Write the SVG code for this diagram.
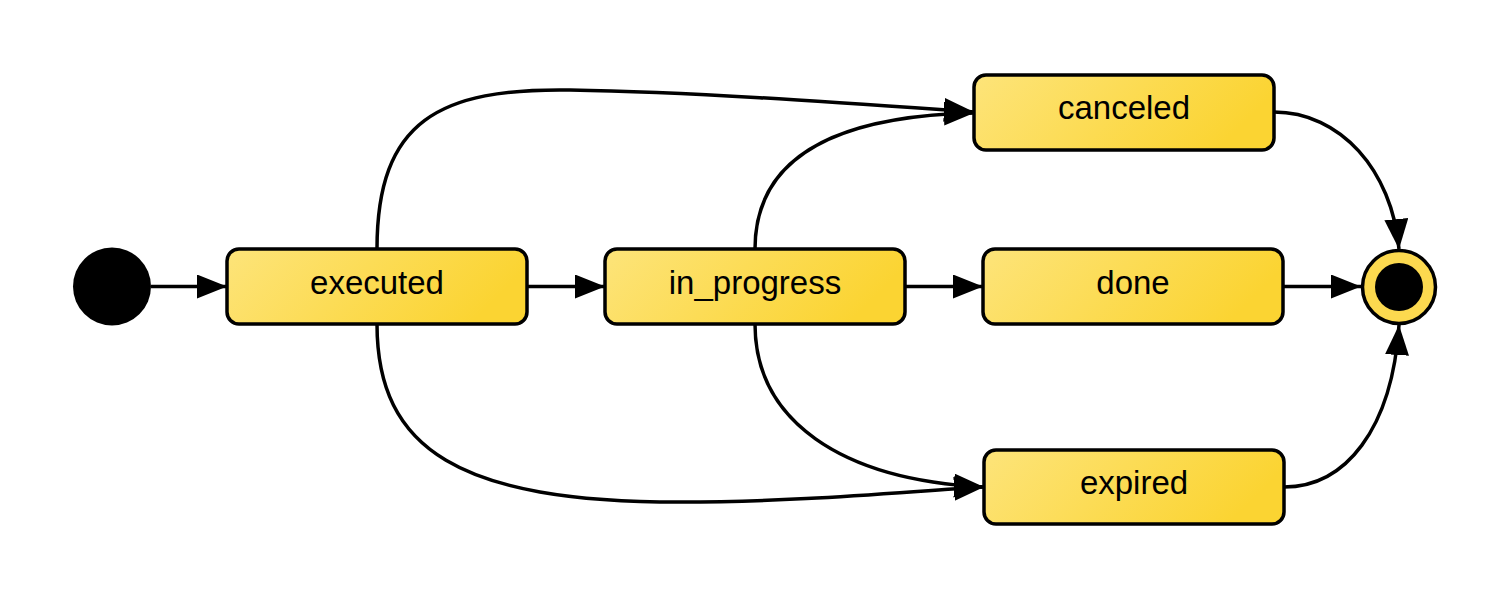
<svg xmlns="http://www.w3.org/2000/svg" width="1511" height="600" viewBox="0 0 1511 600">
<defs>
<linearGradient id="g" x1="0" y1="0" x2="1" y2="0.25">
<stop offset="0" stop-color="#fde47a"/>
<stop offset="1" stop-color="#fbd432"/>
</linearGradient>
<marker id="arr" markerWidth="30" markerHeight="24" refX="30" refY="12" orient="auto" markerUnits="userSpaceOnUse">
<path d="M0,0 L30,12 L0,24 Z" fill="#000"/>
</marker>
<style>
.st rect{fill:url(#g);stroke:#000;stroke-width:3.5}
.st text{font-family:"Liberation Sans",Arial,sans-serif;font-size:33px;fill:#000;text-anchor:middle}
.e{fill:none;stroke:#000;stroke-width:3.5;marker-end:url(#arr)}
</style>
</defs>
<rect width="1511" height="600" fill="#fff"/>
<g id="connectors">
<path class="e" d="M151,286.5 L227,286.5"/>
<path class="e" d="M527,286.5 L605,286.5"/>
<path class="e" d="M905,286.5 L983,286.5"/>
<path class="e" d="M1283,286.5 L1361,286.5"/>
<path class="e" d="M377,249 C377,120 440,88 570,90 C700,92 860,104 974,112"/>
<path class="e" d="M755,249 C755,160 830,116 974,113"/>
<path class="e" d="M377,324 C377,450 460,502 680,502 C800,502 900,492 984,487"/>
<path class="e" d="M755,324 C755,420 840,480 984,487"/>
<path class="e" d="M1274,112 C1340,112 1392,170 1399,249"/>
<path class="e" d="M1284,487 C1345,487 1392,430 1399,325"/>
</g>
<g id="initial"><circle cx="112" cy="286.5" r="39" fill="#000"/></g>
<g id="executed" class="st"><rect x="227" y="249" width="300" height="75" rx="12"/><text x="377" y="294">executed</text></g>
<g id="in_progress" class="st"><rect x="605" y="249" width="300" height="75" rx="12"/><text x="755" y="294">in_progress</text></g>
<g id="done" class="st"><rect x="983" y="249" width="300" height="75" rx="12"/><text x="1133" y="294">done</text></g>
<g id="canceled" class="st"><rect x="974" y="75" width="300" height="75" rx="12"/><text x="1124" y="119">canceled</text></g>
<g id="expired" class="st"><rect x="984" y="450" width="300" height="74" rx="12"/><text x="1134" y="494">expired</text></g>
<g id="final"><circle cx="1399" cy="287" r="36.5" fill="#fcd94f" stroke="#000" stroke-width="3.5"/><circle cx="1399" cy="287" r="24" fill="#000"/></g>
</svg>
